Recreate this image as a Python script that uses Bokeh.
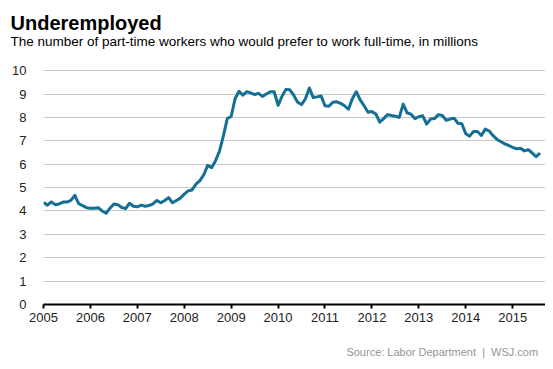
from bokeh.plotting import figure
from bokeh.models import Range1d, Title, FixedTicker, ColumnDataSource, LinearAxis
from bokeh.embed import file_html
from bokeh.resources import INLINE

# Monthly values, millions (Jan 2005 - Aug 2015)
v2005 = [4.36, 4.25, 4.39, 4.27, 4.30, 4.38, 4.38, 4.45, 4.67, 4.31, 4.23, 4.14]
v2006 = [4.12, 4.12, 4.14, 4.00, 3.90, 4.12, 4.30, 4.27, 4.15, 4.10, 4.33, 4.20]
v2007 = [4.18, 4.25, 4.20, 4.23, 4.30, 4.45, 4.35, 4.45, 4.57, 4.35, 4.45, 4.55]
v2008 = [4.72, 4.86, 4.90, 5.15, 5.30, 5.55, 5.95, 5.85, 6.15, 6.55, 7.20, 7.95]
v2009 = [8.04, 8.80, 9.12, 8.95, 9.10, 9.05, 8.98, 9.03, 8.90, 9.00, 9.10, 9.10]
v2010 = [8.52, 8.90, 9.20, 9.18, 8.95, 8.65, 8.55, 8.80, 9.26, 8.85, 8.88, 8.92]
v2011 = [8.50, 8.48, 8.65, 8.67, 8.60, 8.50, 8.35, 8.80, 9.10, 8.75, 8.50, 8.22]
v2012 = [8.25, 8.15, 7.80, 7.95, 8.12, 8.08, 8.05, 8.00, 8.57, 8.20, 8.14, 7.95]
v2013 = [8.03, 8.07, 7.72, 7.93, 7.95, 8.12, 8.08, 7.88, 7.93, 7.97, 7.75, 7.73]
v2014 = [7.30, 7.20, 7.40, 7.40, 7.23, 7.50, 7.42, 7.22, 7.06, 6.96, 6.87, 6.80]
v2015 = [6.72, 6.66, 6.68, 6.57, 6.62, 6.48, 6.32, 6.48]

year_ticks = [2005, 2006, 2007, 2008, 2009, 2010, 2011, 2012, 2013, 2014, 2015]
value_ticks = [0, 1, 2, 3, 4, 5, 6, 7, 8, 9, 10]

title_text = "Underemployed"
subtitle_text = "The number of part-time workers who would prefer to work full-time, in millions"
source_text = "Source: Labor Department \u00a0|\u00a0 WSJ.com"
source_anchor = 2013.5   # horizontal centre of the source line, in axis units

values = v2005 + v2006 + v2007 + v2008 + v2009 + v2010 + v2011 + v2012 + v2013 + v2014 + v2015
dates = [2005 + i / 12 for i in range(len(values))]
src = ColumnDataSource(data=dict(x=dates, y=values))

FONT = "Liberation Sans"
W, H = 545, 361

p = figure(width=W, height=H, output_backend="svg", toolbar_location=None, title=None,
           x_range=Range1d(2005, 2015.70), y_range=Range1d(0, 10.05),
           min_border_left=43, min_border_right=0, min_border_top=69, min_border_bottom=57)
p.outline_line_color = None
p.background_fill_color = "white"
p.border_fill_color = "white"

p.line("x", "y", source=src, line_color="#136f94", line_width=3, line_join="round")

p.xgrid.grid_line_color = None
p.ygrid.grid_line_color = "#c8c8c8"
p.ygrid.grid_line_width = 1
p.ygrid.ticker = FixedTicker(ticks=value_ticks[1:])

xax = p.xaxis[0]
xax.ticker = FixedTicker(ticks=year_ticks)
xax.axis_line_color = "black"
xax.axis_line_width = 2
xax.major_tick_line_color = "black"
xax.major_tick_line_width = 2
xax.major_tick_out = 4
xax.major_tick_in = 0
xax.minor_tick_line_color = None
xax.major_label_standoff = 4
xax.major_label_text_font = FONT
xax.major_label_text_font_size = "13px"
xax.major_label_text_color = "#222222"

yax = p.yaxis[0]
yax.ticker = FixedTicker(ticks=value_ticks)
yax.axis_line_color = None
yax.major_tick_line_color = None
yax.minor_tick_line_color = None
yax.major_label_standoff = 11
yax.major_label_text_font = FONT
yax.major_label_text_font_size = "13px"
yax.major_label_text_color = "#222222"

# titles (first added sits nearest the plot area)
p.add_layout(Title(text=subtitle_text, align="left", offset=-33, standoff=41,
                   text_font=FONT, text_font_size="13.5px", text_font_style="normal",
                   text_color="black"), "above")
p.add_layout(Title(text=title_text, align="left", offset=-33, standoff=-44,
                   text_font=FONT, text_font_size="20px", text_font_style="bold",
                   text_color="black"), "above")

# source line, drawn as the only label of a bare axis under the year axis
src_axis = LinearAxis(ticker=FixedTicker(ticks=[source_anchor]),
                      major_label_overrides={source_anchor: source_text},
                      axis_line_color=None, major_tick_line_color=None,
                      minor_tick_line_color=None, major_tick_out=0, major_tick_in=0,
                      major_label_standoff=21,
                      major_label_text_font=FONT, major_label_text_font_size="11px",
                      major_label_text_color="#959595")
p.add_layout(src_axis, "below")

open("out.html", "w").write(file_html(p, INLINE))
